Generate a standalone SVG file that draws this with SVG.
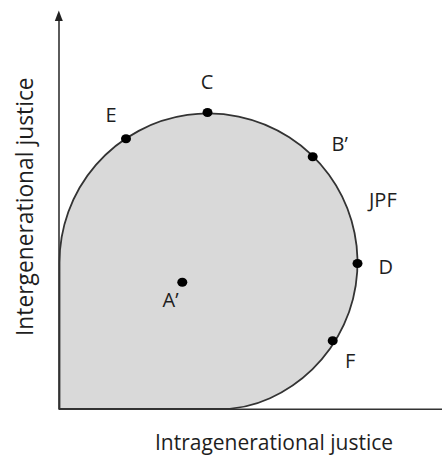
<svg xmlns="http://www.w3.org/2000/svg" width="442" height="456" viewBox="0 0 442 456">
<style>
text{font-family:"Open Sans","Noto Sans","Liberation Sans",sans-serif;fill:#1e1e1e}
.lbl{font-size:20px}
.ax{stroke:#333;stroke-width:1.6;fill:none}
.dot{fill:#000}
</style>
<rect width="442" height="456" fill="#fff"/>
<g id="region">
<path d="M59.5,409 L59.5,262.5 A149,149 0 1 1 270,398.2 Q246.2,409 220,409 Z" fill="#d9d9d9" stroke="#333" stroke-width="1.8"/>
</g>
<g id="axes">
<line class="ax" x1="59" y1="409.3" x2="442" y2="409.3"/>
<line class="ax" x1="59" y1="409.3" x2="59" y2="19"/>
<polygon points="58.8,10.5 54.8,21 62.8,21" fill="#222"/>
</g>
<g id="node-C"><ellipse class="dot" cx="207.5" cy="112.5" rx="5" ry="4.5"/><text class="lbl" x="207" y="89" text-anchor="middle">C</text></g>
<g id="node-E"><ellipse class="dot" cx="126" cy="138.7" rx="5" ry="4.5"/><text class="lbl" x="105.5" y="122">E</text></g>
<g id="node-B"><ellipse class="dot" cx="312.7" cy="156.7" rx="5" ry="4.5"/><text class="lbl" x="331.5" y="150.7">B’</text></g>
<g id="node-JPF"><text class="lbl" x="369" y="207.3">JPF</text></g>
<g id="node-D"><ellipse class="dot" cx="357.5" cy="263.5" rx="5" ry="4.5"/><text class="lbl" x="378.5" y="274.3">D</text></g>
<g id="node-A"><ellipse class="dot" cx="182.3" cy="282.3" rx="5" ry="4.5"/><text class="lbl" x="162.5" y="306.7">A’</text></g>
<g id="node-F"><ellipse class="dot" cx="332.7" cy="340.7" rx="5" ry="4.5"/><text class="lbl" x="345" y="368.3">F</text></g>
<g id="axis-labels">
<text x="274" y="450" font-size="21" text-anchor="middle">Intragenerational justice</text>
<text transform="translate(32.5,206.7) rotate(-90)" font-size="22.8" text-anchor="middle">Intergenerational justice</text>
</g>
</svg>
